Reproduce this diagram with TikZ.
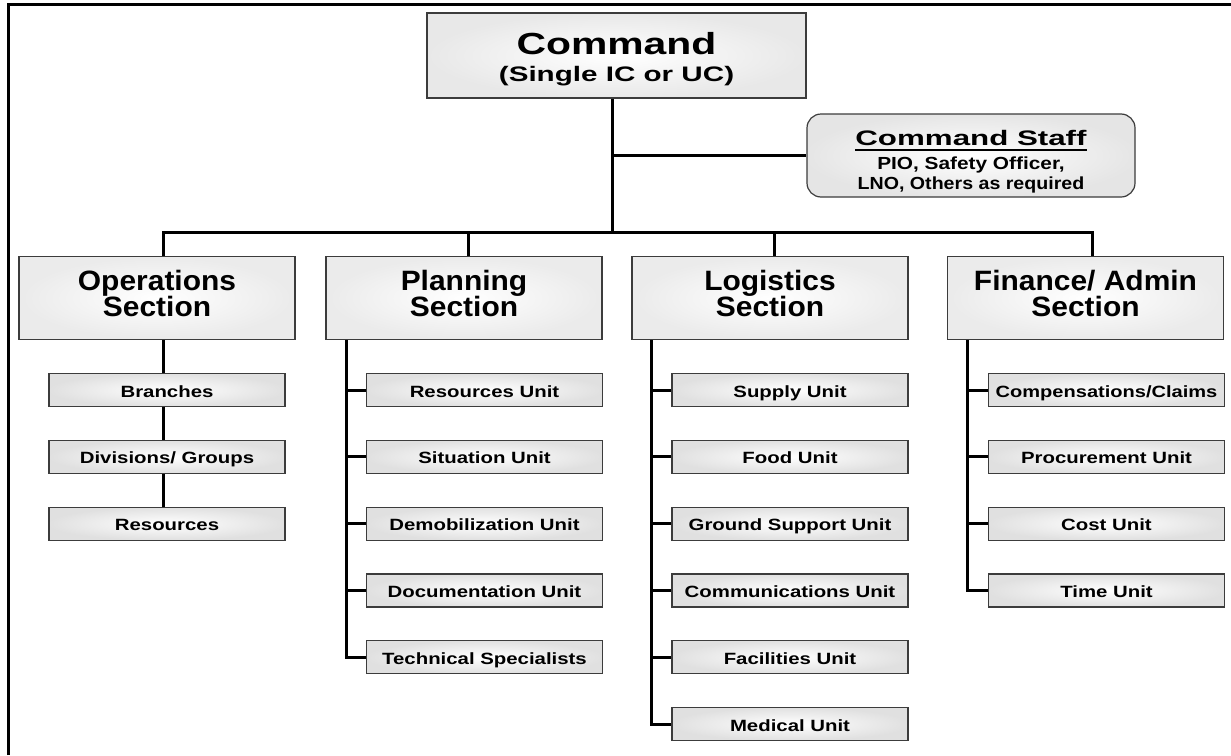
\documentclass[tikz,border=0pt]{standalone}
\usepackage{fontspec}
\setmainfont{Liberation Sans}
\usetikzlibrary{calc}
\definecolor{edge}{HTML}{3C3C3C}
\newcommand\sx[2]{\scalebox{#1}[1]{#2}}
\newcommand\ulbox[1]{\setbox0\hbox{#1}\rlap{\rule[-5.3pt]{\wd0}{1.7pt}}\box0}
\newcommand\tightls{\lineskiplimit-100pt\relax}
\begin{document}
\begin{tikzpicture}[x=1pt,y=-1pt,
  conn/.style={line width=3pt, draw=black},
  boxbase/.style={draw=edge, line width=1.2pt, inner sep=0pt, inner color=white, outer color=gray!20},
  cmdbox/.style={boxbase, outer color=gray!18, minimum width=379pt, minimum height=85pt, align=center,
    font={\bfseries\fontsize{21}{27}\selectfont\tightls}},
  secbox/.style={boxbase, outer color=gray!16, minimum width=276pt, minimum height=83pt, align=center,
    font={\bfseries\fontsize{28}{26}\selectfont\tightls}},
  unitbox/.style={boxbase, outer color=gray!24, minimum width=236pt, minimum height=33pt,
    text height=14pt, text depth=0pt, font={\bfseries\fontsize{16.3}{16.3}\selectfont}},
  staffbox/.style={boxbase, rounded corners=14pt, minimum width=328pt, minimum height=83pt, align=center,
    font={\bfseries\fontsize{17.5}{20}\selectfont\tightls}}]
\useasboundingbox (0,0) rectangle (1231,755);
\fill[white] (0,0) rectangle (1231,755);
% frame
\draw[line width=3pt] (8,755) -- (8,4.5) -- (1231,4.5);

% command and staff
\node[cmdbox] (cmd) at (616.5,55.5)
  {\rule{0pt}{30.4pt}\sx{1.34}{\fontsize{30.5}{30.5}\selectfont Command}\\ \sx{1.41}{(Single IC or UC)}};
\node[staffbox] (staff) at (971,155.5)
  {\rule{0pt}{27.7pt}\sx{1.49}{\fontsize{21}{21}\selectfont\ulbox{Command Staff}}\\[4pt]
   \sx{1.19}{PIO, Safety Officer,}\\ \sx{1.12}{LNO, Others as required}};

% sections
\node[secbox] (ops)  at (157,298)   {\sx{1.07}{Operations}\\ \sx{1.07}{Section}\rule[-8.8pt]{0pt}{0pt}};
\node[secbox] (plan) at (464,298)   {\sx{1.07}{Planning}\\ \sx{1.07}{Section}\rule[-8.8pt]{0pt}{0pt}};
\node[secbox] (logi) at (770,298)   {\sx{1.07}{Logistics}\\ \sx{1.07}{Section}\rule[-8.8pt]{0pt}{0pt}};
\node[secbox] (fin)  at (1085.5,298){\sx{1.07}{Finance/ Admin}\\ \sx{1.07}{Section}\rule[-8.8pt]{0pt}{0pt}};

% operations units
\node[unitbox] (o1) at (167,390)   {\sx{1.25}{Branches}};
\node[unitbox] (o2) at (167,456.8) {\sx{1.25}{Divisions/ Groups}};
\node[unitbox] (o3) at (167,523.6) {\sx{1.25}{Resources}};

% planning units
\node[unitbox] (p1) at (484.5,390)   {\sx{1.25}{Resources Unit}};
\node[unitbox] (p2) at (484.5,456.8) {\sx{1.25}{Situation Unit}};
\node[unitbox] (p3) at (484.5,523.6) {\sx{1.25}{Demobilization Unit}};
\node[unitbox] (p4) at (484.5,590.4) {\sx{1.25}{Documentation Unit}};
\node[unitbox] (p5) at (484.5,657.2) {\sx{1.25}{Technical Specialists}};

% logistics units
\node[unitbox] (l1) at (790,390)   {\sx{1.25}{Supply Unit}};
\node[unitbox] (l2) at (790,456.8) {\sx{1.25}{Food Unit}};
\node[unitbox] (l3) at (790,523.6) {\sx{1.25}{Ground Support Unit}};
\node[unitbox] (l4) at (790,590.4) {\sx{1.25}{Communications Unit}};
\node[unitbox] (l5) at (790,657.2) {\sx{1.25}{Facilities Unit}};
\node[unitbox] (l6) at (790,724)   {\sx{1.25}{Medical Unit}};

% finance units
\node[unitbox] (f1) at (1106.5,390)   {\sx{1.23}{Compensations/Claims}};
\node[unitbox] (f2) at (1106.5,456.8) {\sx{1.25}{Procurement Unit}};
\node[unitbox] (f3) at (1106.5,523.6) {\sx{1.25}{Cost Unit}};
\node[unitbox] (f4) at (1106.5,590.4) {\sx{1.25}{Time Unit}};

% connectors
\coordinate (cv) at ($(cmd.south)+(-4.5,0)$);
\coordinate (bus) at (612,232.5);
\draw[conn] (cv) -- (cv |- bus);
\draw[conn] (cv |- staff.west) -- (staff.west);

\coordinate (od) at ($(ops.north)+(6,0)$);
\coordinate (pd) at ($(plan.north)+(4,0)$);
\coordinate (ld) at ($(logi.north)+(4,0)$);
\coordinate (fd) at ($(fin.north)+(6.5,0)$);
\draw[conn] (od) -- (od |- bus) -- (fd |- bus) -- (fd);
\draw[conn] (pd) -- (pd |- bus);
\draw[conn] (ld) -- (ld |- bus);

\coordinate (oc) at ($(ops.south)+(6,0)$);
\draw[conn] (oc) -- (oc |- o1.north);
\draw[conn] (oc |- o1.south) -- (oc |- o2.north);
\draw[conn] (oc |- o2.south) -- (oc |- o3.north);

\coordinate (ps) at ($(plan.south west)+(21,0)$);
\draw[conn] (ps) -- (ps |- p5.west) -- (p5.west);
\foreach \u in {p1,p2,p3,p4} \draw[conn] (ps |- \u.west) -- (\u.west);

\coordinate (ls) at ($(logi.south west)+(20,0)$);
\draw[conn] (ls) -- (ls |- l6.west) -- (l6.west);
\foreach \u in {l1,l2,l3,l4,l5} \draw[conn] (ls |- \u.west) -- (\u.west);

\coordinate (fs) at ($(fin.south west)+(21,0)$);
\draw[conn] (fs) -- (fs |- f4.west) -- (f4.west);
\foreach \u in {f1,f2,f3} \draw[conn] (fs |- \u.west) -- (\u.west);
\end{tikzpicture}
\end{document}
